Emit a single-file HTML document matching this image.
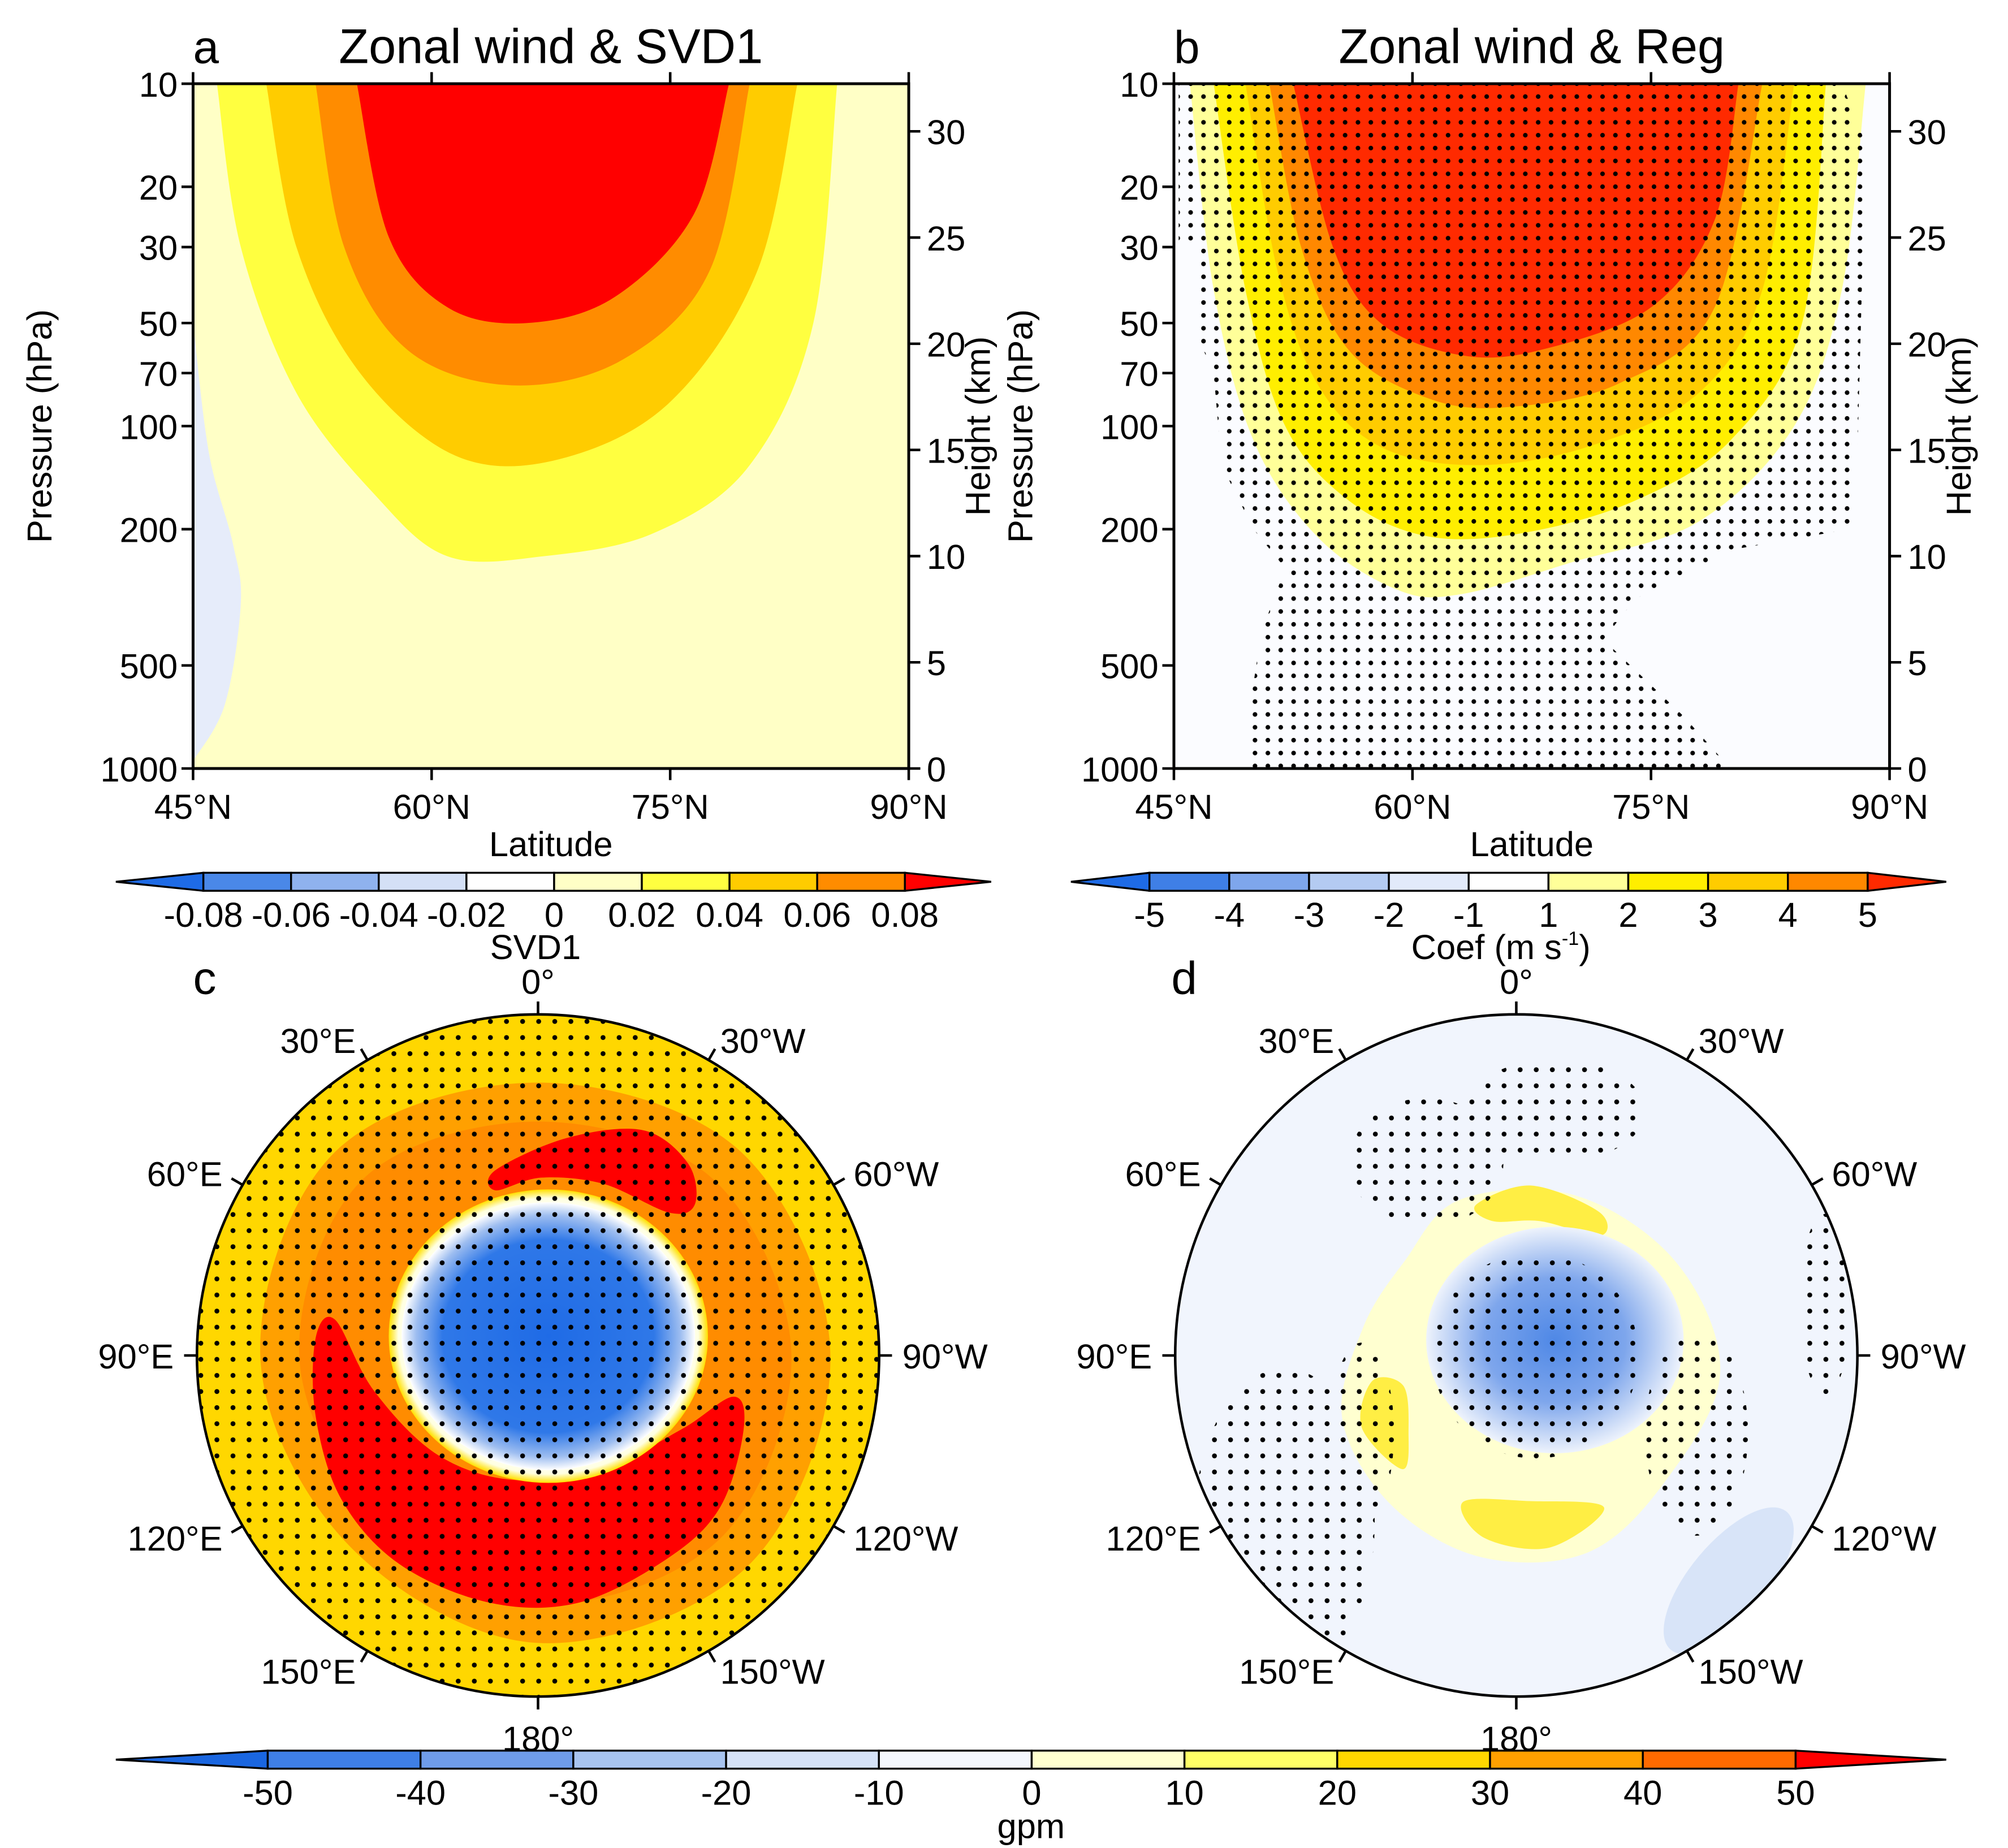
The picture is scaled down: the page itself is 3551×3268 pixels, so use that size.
<!DOCTYPE html>
<html><head><meta charset="utf-8"><style>
html,body{margin:0;padding:0;background:#fff}
svg{display:block}
text{font-family:"Liberation Sans",sans-serif;fill:#000}
</style></head><body>
<svg id="fig" xmlns="http://www.w3.org/2000/svg" width="3551" height="3268" viewBox="0 0 1560 1435.6">
<defs>
<pattern id="dotsB" width="10" height="10" patternUnits="userSpaceOnUse"><circle cx="5" cy="5" r="1.8" fill="#000"/></pattern>
<pattern id="dotsC" width="12.5" height="12.5" patternUnits="userSpaceOnUse"><circle cx="6" cy="6" r="1.9" fill="#000"/></pattern>
<radialGradient id="blueC" cx="0.5" cy="0.5" r="0.5">
<stop offset="0" stop-color="#1f6be6"/><stop offset="0.72" stop-color="#2f78e8"/><stop offset="0.9" stop-color="#9dbdf0"/><stop offset="1" stop-color="#ffffff"/></radialGradient>
<radialGradient id="blueD" cx="0.5" cy="0.5" r="0.5">
<stop offset="0" stop-color="#4f88e6"/><stop offset="0.55" stop-color="#7ea6ec"/><stop offset="1" stop-color="#eef3fc"/></radialGradient>
<radialGradient id="whiteRing" cx="0.5" cy="0.5" r="0.5">
<stop offset="0.85" stop-color="#ffffff"/><stop offset="0.94" stop-color="#ffffe0"/><stop offset="1" stop-color="#ffe000"/></radialGradient>
</defs>
<g id="root"></g>
</svg>
<script>
// ---------------- data ----------------
const latTicks=[45,60,75,90];
const latLabels=["45°N","60°N","75°N","90°N"];
const presTicks=[10,20,30,50,70,100,200,500,1000];
const heightTicks=[0,5,10,15,20,25,30];
// panel a contour bands (lat, hPa) boundaries, outer to inner
const aLevels=["0.02","0.04","0.06","0.08"];
const aColors=["#ffff40","#ffcc00","#ff8c00","#ff0000"];
const aBand1=[[46.5,10],[48,30],[51.5,80],[56.5,160],[61,240],[67,240],[74,205],[80,130],[84,50],[85.5,10]];
const aBand2=[[49.6,10],[51.5,30],[55.5,70],[61.5,122],[68,125],[75,85],[80.5,35],[83,10]];
const aBand3=[[52.7,10],[54.5,30],[58.5,60],[65,76],[72,64],[77.5,35],[80,10]];
const aBand4=[[55.3,10],[57.3,28],[61,45],[66,50],[71.5,42],[76.5,24],[78.7,10]];
const aNeg=[[45,50],[46,120],[47.5,220],[48,330],[47,650],[45,950]];
// panel b bands
const bColors=["#ffff99","#ffee00","#ffcc00","#ff8800","#ff2a00"];
const bBand1=[[46,10],[47.5,40],[50,110],[54,210],[59,300],[63,310],[70,250],[78,190],[84,100],[87,40],[88.5,10]];
const bBand2=[[47.5,10],[49.5,40],[52,100],[56,165],[61,210],[67,205],[74,165],[80,110],[84.5,50],[86,10]];
const bBand3=[[49.5,10],[51.5,35],[54,75],[58,115],[64,130],[71,115],[78,80],[82,40],[84,10]];
const bBand4=[[51,10],[53,30],[56,60],[61,83],[66,88],[73,75],[79,45],[82,10]];
const bBand5=[[52.5,10],[55,30],[58,50],[63,62],[68,60],[75,45],[79,25],[80.5,10]];
const bStip=[[45.3,10],[45.3,30],[46.5,30],[46.5,55],[47.5,70],[48,130],[50,200],[52,260],[50.5,400],[49.5,800],[49.5,1000],[80,1000],[77,700],[72,420],[74,320],[80,230],[87.5,200],[88,110],[88.5,15],[87,10]];
// polar fields (lon, lat); lon east positive
const cRedTop=[[13,51],[-7.5,45],[-25,39],[-38,40],[-46,45.2],[-42.6,50.2],[-21,52.3],[-1,53.5],[14.5,55]];
const cRedBottom=[[85.7,44.2],[80,47.7],[101.9,55.5],[134.6,61],[169.5,64],[-149,63.2],[-117,56.8],[-101.9,49],[-109.6,45.2],[-129.5,41.4],[-147,40.6],[-170.5,38.6],[168.8,38.3],[146.3,38.6],[126.2,40],[105.2,42.7]];
const cOrangeLat=[34,31,33,35,31,29,30,31];
const dYellowLight=[[20,56],[-20,55],[-60,52],[-95,48],[-130,50],[-160,47],[170,48],[140,50],[110,52],[80,58],[50,60]];
const dYellowTop=[[15,58],[-5,55],[-30,56],[-35,60],[-10,62],[10,62]];
const dYellowLeft=[[100,60],[115,55],[135,57],[125,63],[105,66]];
const dYellowBottom=[[-150,54],[-170,50],[170,52],[160,58],[-175,60]];
const polarLonLabels=[0,30,60,90,120,150,180,-150,-120,-90,-60,-30];

// ---------------- helpers ----------------
const NS="http://www.w3.org/2000/svg";
const root=document.getElementById('root');
const FS=27;
function mk(tag,attrs,parent){const e=document.createElementNS(NS,tag);for(const k in attrs)e.setAttribute(k,attrs[k]);(parent||root).appendChild(e);return e;}
function txt(x,y,s,size,anchor,parent,name){const t=mk('text',{x:x,y:y,'font-size':size,'text-anchor':anchor||'middle'},parent);t.textContent=s;


return t;}
function smooth(pts,closed){let d="M"+pts[0][0]+","+pts[0][1];const n=pts.length;
for(let i=0;i<(closed?n:n-1);i++){const p0=pts[(i-1+n)%n],p1=pts[i],p2=pts[(i+1)%n],p3=pts[(i+2)%n];
const a=closed||i>0?p0:p1,b=closed||i<n-2?p3:p2;
d+=" C"+(p1[0]+(p2[0]-a[0])/6)+","+(p1[1]+(p2[1]-a[1])/6)+" "+(p2[0]-(b[0]-p1[0])/6)+","+(p2[1]-(b[1]-p1[1])/6)+" "+p2[0]+","+p2[1];}
return d+(closed?"Z":"");}

function makeAxes(x0){
  const X=lat=>x0+(lat-45)/45*556;
  const Y=p=>65+(Math.log10(p)-1)*266;
  return {X,Y};
}
function bandPath(ax,pts){
  const s=pts.map(p=>[ax.X(p[0]),ax.Y(p[1])]);
  return smooth(s,false)+"Z";
}
function section(x0,letter,bg,bands,colors,nameP,extra){
  const ax=makeAxes(x0);
  const g=mk('g',{});
  
  
  const cp=mk('clipPath',{id:'clip'+letter},g);mk('rect',{x:x0,y:65,width:556,height:532},cp);
  const pg=mk('g',{'clip-path':'url(#clip'+letter+')'},g);
  const bgr=mk('rect',{x:x0,y:65,width:556,height:532,fill:bg},pg);
  
  
  if(extra) extra(pg,ax);
  bands.forEach((b,i)=>{const p=mk('path',{d:bandPath(ax,b),fill:colors[i]},pg);
    
    });
  return {g,pg,ax};
}
function frame(g,x0,letter,title,ax){
  const f=mk('rect',{x:x0,y:65,width:556,height:532,fill:'none',stroke:'#000','stroke-width':2.2},g);
  
  
  latTicks.forEach((l,i)=>{const x=ax.X(l);
    mk('line',{x1:x,x2:x,y1:597,y2:606,stroke:'#000','stroke-width':2},g);
    mk('line',{x1:x,x2:x,y1:65,y2:56,stroke:'#000','stroke-width':2},g);
    txt(x,636,latLabels[i],FS,'middle',g,'x-tick-label');});
  presTicks.forEach(p=>{const y=ax.Y(p);
    mk('line',{x1:x0,x2:x0-9,y1:y,y2:y,stroke:'#000','stroke-width':2},g);
    txt(x0-12,y+10,String(p),FS,'end',g,'y-tick-label');});
  heightTicks.forEach(h=>{const y=597-h*16.5;
    mk('line',{x1:x0+556,x2:x0+565,y1:y,y2:y,stroke:'#000','stroke-width':2},g);
    txt(x0+570,y+10,String(h),FS,'start',g,'right-tick-label');});
  txt(x0+278,665,'Latitude',FS,'middle',g,'x-axis-title');
  const yt=txt(0,0,'Pressure (hPa)',FS,'middle',g,'y-axis-title');yt.setAttribute('transform','translate('+(x0-110)+',331) rotate(-90)');
  const ht=txt(0,0,'Height (km)',FS,'middle',g,'right-axis-title');ht.setAttribute('transform','translate('+(x0+619)+',331) rotate(-90)');
  txt(x0,49,letter,36,'start',g,'panel-letter');
  txt(x0+278,49,title,38,'middle',g,'panel-title');
}

// ---------- panel a ----------
const A=section(150,'a',"#ffffc6",[aBand1,aBand2,aBand3,aBand4],aColors,'zonal-wind-svd1',(pg,ax)=>{
  const p=mk('path',{d:smooth(aNeg.map(q=>[ax.X(q[0]),ax.Y(q[1])]),false)+"L"+ax.X(45)+","+ax.Y(1000)+"Z",fill:"#e6ecfa"},pg);
  
  
});
frame(A.g,150,'a','Zonal wind & SVD1',A.ax);

// ---------- panel b ----------
const B=section(912,'b',"#fbfcff",[bBand1,bBand2,bBand3,bBand4,bBand5],bColors,'zonal-wind-reg',null);
{const s=B.ax;const p=mk('path',{d:"M"+bStip.map(q=>s.X(q[0])+","+s.Y(q[1])).join(" L")+"Z",fill:'url(#dotsB)'},B.pg);
 
 }
frame(B.g,912,'b','Zonal wind & Reg',B.ax);

// ---------- colorbars ----------
function colorbar(x0,x1,xa,xb,y,h,colors,labels,name){
  const g=mk('g',{});
  
  
  const n=colors.length-2,w=(xb-xa)/n;
  mk('polygon',{points:x0+","+(y+h/2)+" "+xa+","+y+" "+xa+","+(y+h),fill:colors[0],stroke:'#000','stroke-width':1.5},g);
  for(let i=0;i<n;i++){const r=mk('rect',{x:xa+i*w,y:y,width:w,height:h,fill:colors[i+1],stroke:'#000','stroke-width':1.5},g);
    
    }
  mk('polygon',{points:x1+","+(y+h/2)+" "+xb+","+y+" "+xb+","+(y+h),fill:colors[colors.length-1],stroke:'#000','stroke-width':1.5},g);
  labels.forEach((l,i)=>txt(xa+i*w,y+h+28,l,FS,'middle',g,'colorbar-label'));
  return g;
}
const cbA=["#1e6be6","#4a88e8","#8fb2ee","#d4e0f6","#ffffff","#ffffc6","#ffff40","#ffcc00","#ff8c00","#ff0000"];
colorbar(90,770,158,703,678,14,cbA,["-0.08","-0.06","-0.04","-0.02","0","0.02","0.04","0.06","0.08"],'colorbar-svd1');
txt(416,745,'SVD1',FS,'middle',root,'colorbar-title');
const cbB=["#1e6be6","#3f7fe6","#7ea6ec","#b4cbf2","#e2eafa","#ffffff","#ffff99","#ffee00","#ffcc00","#ff8800","#ff2a00"];
colorbar(832,1512,893,1451,678,14,cbB,["-5","-4","-3","-2","-1","1","2","3","4","5"],'colorbar-coef');
{const t=txt(1166,745,'Coef (m s',FS,'middle',root,'colorbar-title');const ts=mk('tspan',{'font-size':15,dy:-11},t);ts.textContent='-1';const t2=mk('tspan',{dy:11},t);t2.textContent=')';}
const cbC=["#1a66e0","#3f7fe6","#6f9ce9","#a8c4f0","#d5e2f7","#f4f7fd","#ffffd0","#ffff66","#ffd700","#ffa000","#ff6a00","#ff0000"];
colorbar(90,1512,208,1395,1360,14,cbC,["-50","-40","-30","-20","-10","0","10","20","30","40","50"],'colorbar-gpm');
txt(801,1428,'gpm',FS,'middle',root,'colorbar-title');

// ---------- polar maps ----------
const R=265;
function polar(cx,cy){return (lon,lat)=>{const r=(90-lat)/70*R,a=lon*Math.PI/180;return [cx-r*Math.sin(a),cy-r*Math.cos(a)];};}
function polarPanel(cx,letter,name,draw){
  const cy=1053,P=polar(cx,cy);
  const g=mk('g',{});
  
  
  const cp=mk('clipPath',{id:'pc'+letter},g);mk('circle',{cx:cx,cy:cy,r:R},cp);
  const pg=mk('g',{'clip-path':'url(#pc'+letter+')'},g);
  draw(pg,P,cx,cy);
  const c=mk('circle',{cx:cx,cy:cy,r:R,fill:'none',stroke:'#000','stroke-width':2},g);
  
  
  polarLonLabels.forEach(l=>{const a=l*Math.PI/180,s=Math.sin(a),co=Math.cos(a);
    mk('line',{x1:cx-R*s,y1:cy-R*co,x2:cx-(R+10)*s,y2:cy-(R+10)*co,stroke:'#000','stroke-width':2},g);
    const lab=l===0?'0°':l===180?'180°':l>0?l+'°E':(-l)+'°W';
    const rr=R+18,x=cx-rr*s,y=cy-rr*co;
    let anc=Math.abs(s)<0.05?'middle':(s>0?'end':'start');
    let yy=y+10+(co>0.9?-8:0)+(co<-0.9?14:0);
    txt(x,yy,lab,FS,anc,g,'longitude-label');});
  txt(cx-268,772,letter,36,'start',g,'panel-letter');
  return g;
}
function shape(pg,P,pts,fill,name){const p=mk('path',{d:smooth(pts.map(q=>P(q[0],q[1])),true),fill:fill},pg);
  
  return p;}

polarPanel(418,'c','z-svd1-map',(pg,P,cx,cy)=>{
  mk('rect',{x:cx-R,y:cy-R,width:2*R,height:2*R,fill:'#ffd700'},pg);
  shape(pg,P,cOrangeLat.map((l,i)=>[i*45,l]),'#ffa000','orange-ring');
  shape(pg,P,cOrangeLat.map((l,i)=>[i*45,l+8]),'#ff8c00','orange-ring-inner');
  shape(pg,P,cRedTop,'#ff0000','red-crescent-top');
  shape(pg,P,cRedBottom,'#ff0000','red-crescent-bottom');
  const w=mk('ellipse',{cx:cx+8,cy:cy-15,rx:124,ry:114,fill:'url(#whiteRing)'},pg);
  
  
  const b=mk('ellipse',{cx:cx+8,cy:cy-15,rx:114,ry:104,fill:'url(#blueC)'},pg);
  
  
  const st=mk('rect',{x:cx-R,y:cy-R,width:2*R,height:2*R,fill:'url(#dotsC)'},pg);
  
  
});
polarPanel(1178,'d','z-reg-map',(pg,P,cx,cy)=>{
  mk('rect',{x:cx-R,y:cy-R,width:2*R,height:2*R,fill:'#f1f5fd'},pg);
  shape(pg,P,dYellowLight,'#ffffd0','light-yellow-region');
  shape(pg,P,dYellowTop,'#ffee44','yellow-top');
  shape(pg,P,dYellowLeft,'#ffee44','yellow-left');
  shape(pg,P,dYellowBottom,'#ffee44','yellow-bottom');
  const b=mk('ellipse',{cx:cx+30,cy:cy-12,rx:100,ry:88,fill:'url(#blueD)'},pg);
  
  
  const lb=mk('ellipse',{cx:cx+165,cy:cy+175,rx:30,ry:70,fill:'#d8e4f8',transform:'rotate(40 '+(cx+165)+' '+(cy+175)+')'},pg);
  
  
  [[cx-180,cy+130,70,120],[cx-70,cy-150,60,50],[cx+30,cy-190,70,40],[cx+15,cy,80,80],[cx+140,cy+60,40,80],[cx-120,cy+60,25,70],[cx+240,cy-40,20,70]].forEach(e=>{
    const s=mk('ellipse',{cx:e[0],cy:e[1],rx:e[2],ry:e[3],fill:'url(#dotsC)'},pg);
    
    });
});
</script>
</body></html>
